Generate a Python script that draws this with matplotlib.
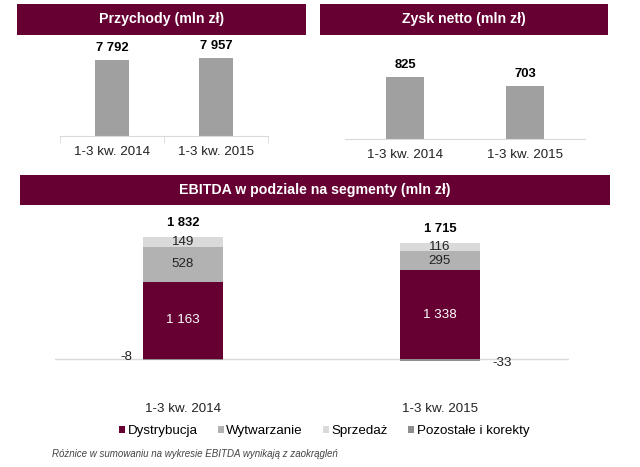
import matplotlib.pyplot as plt
import numpy as np

plt.rcParams['font.family'] = ['Liberation Sans', 'DejaVu Sans']

# --- data ---
periods = ['1-3 kw. 2014', '1-3 kw. 2015']
revenue = [7792, 7957]
net_profit = [825, 703]

segments = ['Dystrybucja', 'Wytwarzanie', 'Sprzedaż', 'Pozostałe i korekty']
dystrybucja = [1163, 1338]
wytwarzanie = [528, 295]
sprzedaz = [149, 116]
pozostale = [-8, -33]
ebitda_total = [1832, 1715]

# --- styles ---
MAROON = '#660033'
BAR_GREY = '#a0a0a0'
seg_colors = ['#660033', '#b2b2b2', '#dadada', '#8e8e8e']
FS = 9.6
W, H = 640, 467

fig = plt.figure(figsize=(6.4, 4.67), dpi=100)


def px_axes(x0, y_top, x1, y_bottom):
    # pixel box -> figure fraction axes
    return fig.add_axes([x0 / W, 1 - y_bottom / H, (x1 - x0) / W, (y_bottom - y_top) / H])


def banner(x0, y0, x1, y1, text):
    ax = px_axes(x0, y0, x1, y1)
    ax.set_facecolor(MAROON)
    ax.set_xticks([])
    ax.set_yticks([])
    for s in ax.spines.values():
        s.set_visible(False)
    ax.text(0.5, 0.5, text, color='white', fontsize=10.2, fontweight='bold',
            ha='center', va='center', transform=ax.transAxes)


def fmt(v):
    return f'{v:,}'.replace(',', ' ')


def clean(ax):
    for s in ['top', 'right', 'left']:
        ax.spines[s].set_visible(False)
    ax.spines['bottom'].set_color('#d9d9d9')
    ax.set_yticks([])
    ax.set_xlim(-0.5, 1.5)
    ax.set_xticks([0, 1])
    ax.set_xticklabels(periods, fontsize=FS, color='#222222')
    ax.tick_params(axis='x', length=0, pad=7.5)


x = np.arange(len(periods))

# --- Przychody ---
banner(17, 4, 306, 35, 'Przychody (mln zł)')
ax1 = px_axes(60, 40, 268, 136)
ax1.bar(x, revenue, width=0.32, color=BAR_GREY)
ax1.set_ylim(0, 9843)
clean(ax1)
ax1.set_xticks([-0.5, 0.5, 1.5], minor=True)
ax1.tick_params(axis='x', which='minor', length=5, color='#d9d9d9', direction='out')
for xi, v in zip(x, revenue):
    ax1.annotate(fmt(v), (xi, v), xytext=(0, 4.5), textcoords='offset points',
                 ha='center', va='bottom', fontsize=9.4, fontweight='bold')

# --- Zysk netto ---
banner(320, 4, 608, 35, 'Zysk netto (mln zł)')
ax2 = px_axes(345, 45, 585, 139)
ax2.bar(x, net_profit, width=0.31, color=BAR_GREY)
ax2.set_ylim(0, 1251)
clean(ax2)
for xi, v in zip(x, net_profit):
    ax2.annotate(fmt(v), (xi, v), xytext=(0, 4.5), textcoords='offset points',
                 ha='center', va='bottom', fontsize=9.4, fontweight='bold')

# --- EBITDA ---
banner(20, 175, 610, 205, 'EBITDA w podziale na segmenty (mln zł)')
ax3 = px_axes(54.5, 210, 568.5, 365)
ax3.set_ylim(-90, 2247)
bottom = np.zeros(2)
bars_d = ax3.bar(x, dystrybucja, width=0.31, color=seg_colors[0], label=segments[0])
bottom += dystrybucja
bars_w = ax3.bar(x, wytwarzanie, width=0.31, bottom=bottom, color=seg_colors[1], label=segments[1])
bottom += wytwarzanie
bars_s = ax3.bar(x, sprzedaz, width=0.31, bottom=bottom, color=seg_colors[2], label=segments[2])
bottom += sprzedaz
bars_p = ax3.bar(x, pozostale, width=0.31, color=seg_colors[3], label=segments[3])
for s in ax3.spines.values():
    s.set_visible(False)
ax3.axhline(0, color='#d9d9d9', lw=1, zorder=0)
ax3.set_yticks([])
ax3.set_xlim(-0.5, 1.5)
ax3.set_xticks(x)
ax3.set_xticklabels(periods, fontsize=FS, color='#222222')
ax3.tick_params(axis='x', length=0, pad=27)

for i in range(2):
    ax3.text(x[i], dystrybucja[i] / 2, fmt(dystrybucja[i]),
             ha='center', va='center', color='white', fontsize=FS)
    ax3.text(x[i], dystrybucja[i] + wytwarzanie[i] / 2, fmt(wytwarzanie[i]),
             ha='center', va='center', color='#222222', fontsize=FS)
    ax3.text(x[i], dystrybucja[i] + wytwarzanie[i] + sprzedaz[i] / 2, fmt(sprzedaz[i]),
             ha='center', va='center', color='#222222', fontsize=FS)
    top = dystrybucja[i] + wytwarzanie[i] + sprzedaz[i]
    ax3.annotate(fmt(ebitda_total[i]), (x[i], top), xytext=(0, 5.5),
                 textcoords='offset points', ha='center', va='bottom',
                 fontsize=9.4, fontweight='bold')

ax3.annotate(f'{pozostale[0]}', (x[0] - 0.155, pozostale[0]), xytext=(-8, 2),
             textcoords='offset points', ha='right', va='center', fontsize=FS, color='#222222')
ax3.annotate(f'{pozostale[1]}', (x[1] + 0.155, pozostale[1]), xytext=(9, -1),
             textcoords='offset points', ha='left', va='center', fontsize=FS, color='#222222')

fig.legend(handles=[bars_d, bars_w, bars_s, bars_p], labels=segments, loc='center',
           bbox_to_anchor=(324 / W, 1 - 431 / H), ncol=4, frameon=False, fontsize=FS,
           handlelength=0.45, handleheight=0.45, handletextpad=0.2, columnspacing=1.5,
           borderpad=0, borderaxespad=0)

fig.text(52 / W, 1 - 454 / H, 'Różnice w sumowaniu na wykresie EBITDA wynikają z zaokrągleń',
         fontsize=7, style='italic', color='#444444', va='center')

fig.savefig('out.png', dpi=100)
